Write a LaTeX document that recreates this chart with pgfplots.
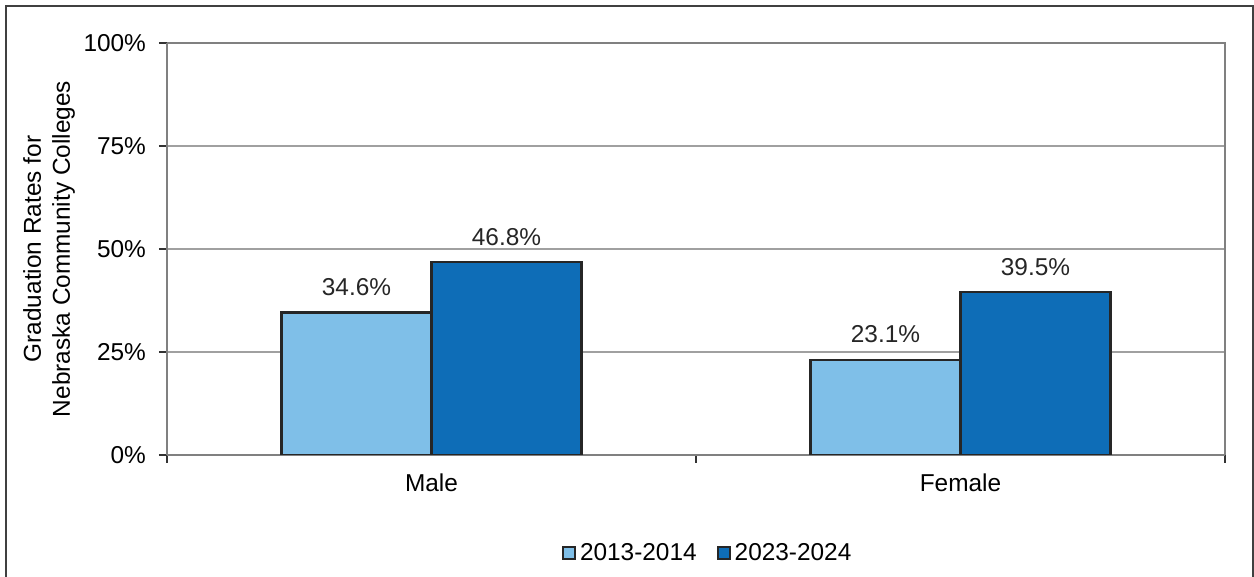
\documentclass[border=0pt]{standalone}
\usepackage{fontspec}
\setmainfont{Liberation Sans}
\usepackage{pgfplots}
\pgfplotsset{compat=1.18}
\definecolor{lightbar}{HTML}{7FBFE8}
\definecolor{darkbar}{HTML}{0E6DB7}
\definecolor{gridgray}{HTML}{A0A0A0}
\definecolor{axisgray}{HTML}{808080}
\begin{document}
\begin{tikzpicture}[x=1pt,y=1pt]
\useasboundingbox (0,0) rectangle (627,288.5);
\draw[line width=0.9pt, black!75] (3,-10) rectangle (626.5,285.5);
\begin{axis}[
    at={(83.5pt,61pt)}, anchor=south west,
    scale only axis, width=529pt, height=206pt,
    font=\fontsize{12.2pt}{14.5pt}\selectfont,
    /pgf/number format/assume math mode=true,
    ybar=0pt, bar width=75pt,
    xmin=-0.5, xmax=1.5, ymin=0, ymax=100,
    xtick={-0.5,0.5,1.5}, xticklabels={},
    extra x ticks={0,1}, extra x tick labels={Male,Female},
    extra x tick style={major tick length=0pt, grid=none,
        xticklabel style={yshift=-6pt}},
    ytick={0,25,50,75,100},
    yticklabel={\pgfmathprintnumber{\tick}\%},
    yticklabel style={xshift=-3pt},
    tick align=outside, major tick length=4pt,
    tick style={black!80, line width=0.6pt},
    ymajorgrids=true,
    grid style={gridgray, line width=0.8pt},
    axis line style={axisgray, line width=0.9pt},
    axis x line*=bottom, axis y line*=left,
    ylabel={Graduation Rates for\\Nebraska Community Colleges},
    ylabel style={align=center, at={(axis description cs:-0.1115,0.5)}, anchor=center},
    nodes near coords={\pgfmathprintnumber[fixed,precision=1,fixed zerofill]{\pgfplotspointmeta}\%},
    nodes near coords style={black!85, yshift=4.5pt},
    legend columns=2,
    legend style={draw=none, at={(0.512,-0.238)}, anchor=center,
        /tikz/every even column/.append style={column sep=8pt}},
    legend image code/.code={\draw[#1, line width=1pt] (0pt,-3pt) rectangle (6pt,3pt);},
    legend cell align=left,
]
\addplot[draw=black!85, line width=1.2pt, fill=lightbar] coordinates {(0,34.6) (1,23.1)};
\addplot[draw=black!85, line width=1.2pt, fill=darkbar] coordinates {(0,46.8) (1,39.5)};
\legend{2013-2014,2023-2024}
\end{axis}
\draw[axisgray, line width=0.9pt] (83.5,267) -- (612.5,267) -- (612.5,61);
\end{tikzpicture}
\end{document}
